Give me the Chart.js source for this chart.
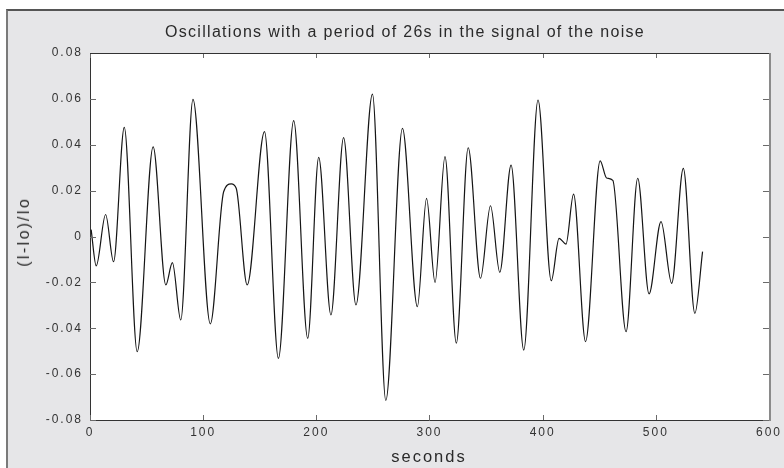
<!DOCTYPE html>
<html>
<head>
<meta charset="utf-8">
<script src="https://cdn.jsdelivr.net/npm/chart.js@4.4.1/dist/chart.umd.min.js"></script>
<style>
  html, body { margin: 0; padding: 0; background: #fff; }
  #wrap { position: relative; width: 784px; height: 468px; overflow: hidden; font-family: "Liberation Sans", Arial, sans-serif; color: #2a2a2a; }
  #panel { position: absolute; left: 6px; top: 9px; width: 800px; height: 500px; background: #e6e6e8; border-top: 2px solid #555; border-left: 2px solid #7a7a7a; }
  #chart { position: absolute; left: 0; top: 0; }
  .lbl { position: absolute; white-space: nowrap; }
  #title { left: 405px; top: 32px; transform: translate(-50%, -50%); font-size: 16px; letter-spacing: 1.3px; }
  #xtitle { left: 429px; top: 456px; transform: translate(-50%, -50%); font-size: 16.5px; letter-spacing: 2px; }
  #ytitle { left: 24px; top: 232px; transform: translate(-50%, -50%) rotate(-90deg); font-size: 16px; letter-spacing: 2px; }
</style>
</head>
<body>
<div id="wrap">
  <div id="panel"></div>
  <canvas id="chart" width="784" height="468"></canvas>
  <div class="lbl" id="title">Oscillations with a period of 26s in the signal of the noise</div>
  <div class="lbl" id="xtitle">seconds</div>
  <div class="lbl" id="ytitle">(I-Io)/Io</div>
</div>
<script>
// --- DATOS (extremos y hombros de la señal) ---
const seconds = [1, 5.5, 13.8, 20.8, 30.3, 41.7, 55.8, 67.0, 72.8, 80.2, 91.0, 106.3, 118.1, 124.8, 129.2,
  138.9, 154.2, 166.5, 180.0, 192.4, 202.1, 212.9, 224.1, 235.0, 249.6, 261.4, 276.1, 289.3, 297.4, 304.9,
  313.7, 323.7, 334.2, 345.1, 353.9, 362.1, 372.1, 383.3, 395.9, 407.6, 414.5, 420.6, 427.3, 437.9, 450.8,
  456.5, 462.0, 473.7, 484.0, 494.0, 504.6, 514.0, 524.3, 534.5, 541.3];
const ratio = [0.003, -0.0128, 0.0096, -0.011, 0.0476, -0.0502, 0.0391, -0.0211, -0.0114, -0.0364, 0.0598, -0.0381, 0.0195, 0.0229, 0.021,
  -0.0211, 0.0457, -0.0531, 0.0505, -0.0444, 0.0345, -0.0342, 0.0431, -0.0298, 0.0621, -0.0715, 0.0471, -0.0306, 0.0166, -0.020,
  0.0348, -0.0465, 0.0387, -0.0182, 0.0134, -0.0156, 0.0311, -0.0495, 0.0595, -0.0193, -0.0008, -0.0033, 0.0185, -0.0458, 0.033,
  0.0255, 0.0245, -0.0415, 0.0254, -0.025, 0.0065, -0.0204, 0.0297, -0.0335, -0.0066];
const xTicks = [0, 100, 200, 300, 400, 500, 600];
const yTicks = [-0.08, -0.06, -0.04, -0.02, 0, 0.02, 0.04, 0.06, 0.08];
const yTickLabels = ['-0.08', '-0.06', '-0.04', '-0.02', '0', '0.02', '0.04', '0.06', '0.08'];

const FONT = '"Liberation Sans", Arial, sans-serif';

// marco del área de trazado + marcas hacia dentro en los 4 lados
const frame = {
  id: 'frame',
  beforeDraw(chart) {
    const { ctx, chartArea: a } = chart;
    ctx.save();
    ctx.fillStyle = '#fff';
    ctx.fillRect(a.left, a.top, a.right - a.left, a.bottom - a.top);
    ctx.restore();
    ctx.letterSpacing = '2px';
  },
  afterDraw(chart) {
    const { ctx, chartArea: a, scales } = chart;
    ctx.save();
    ctx.letterSpacing = '0px';
    ctx.strokeStyle = '#6a6a6a';
    ctx.lineWidth = 1;
    ctx.beginPath();
    scales.x.ticks.forEach(t => {
      const px = Math.round(scales.x.getPixelForValue(t.value)) + 0.5;
      ctx.moveTo(px, a.bottom); ctx.lineTo(px, a.bottom - 5);
      ctx.moveTo(px, a.top); ctx.lineTo(px, a.top + 5);
    });
    scales.y.ticks.forEach(t => {
      const py = Math.round(scales.y.getPixelForValue(t.value)) + 0.5;
      ctx.moveTo(a.left, py); ctx.lineTo(a.left + 6, py);
      ctx.moveTo(a.right, py); ctx.lineTo(a.right - 6, py);
    });
    ctx.stroke();
    ctx.strokeStyle = '#333';
    ctx.beginPath();
    ctx.moveTo(a.left, a.top + 0.5); ctx.lineTo(a.right, a.top + 0.5);
    ctx.stroke();
    ctx.strokeStyle = '#8a8a8a';
    ctx.lineWidth = 2;
    ctx.beginPath();
    ctx.moveTo(a.right + 1, a.top); ctx.lineTo(a.right + 1, a.bottom + 1);
    ctx.stroke();
    ctx.restore();
  }
};

new Chart(document.getElementById('chart'), {
  type: 'line',
  data: {
    datasets: [{
      data: seconds.map((s, i) => ({ x: s, y: ratio[i] })),
      borderColor: '#151515',
      borderWidth: 1.2,
      pointRadius: 0,
      fill: false,
      cubicInterpolationMode: 'monotone'
    }]
  },
  options: {
    responsive: false,
    animation: false,
    layout: { padding: { left: 0, top: 53, right: 12, bottom: 0 } },
    plugins: { legend: { display: false }, tooltip: { enabled: false } },
    scales: {
      x: {
        type: 'linear', min: 0, max: 600,
        afterFit: s => { s.height = 48; },
        afterBuildTicks: s => { s.ticks = xTicks.map(v => ({ value: v })); },
        ticks: { padding: 5, maxRotation: 0, color: '#333', font: { family: FONT, size: 12 } },
        grid: { drawOnChartArea: false, drawTicks: false },
        border: { display: true, color: '#333', width: 1 }
      },
      y: {
        min: -0.08, max: 0.08,
        afterFit: s => { s.width = 90; },
        afterBuildTicks: s => { s.ticks = yTicks.map(v => ({ value: v })); },
        ticks: { padding: 7, color: '#333', font: { family: FONT, size: 12 }, callback: (v, i) => yTickLabels[i] },
        grid: { drawOnChartArea: false, drawTicks: false },
        border: { display: true, color: '#333', width: 1 }
      }
    }
  },
  plugins: [frame]
});
</script>
</body>
</html>
